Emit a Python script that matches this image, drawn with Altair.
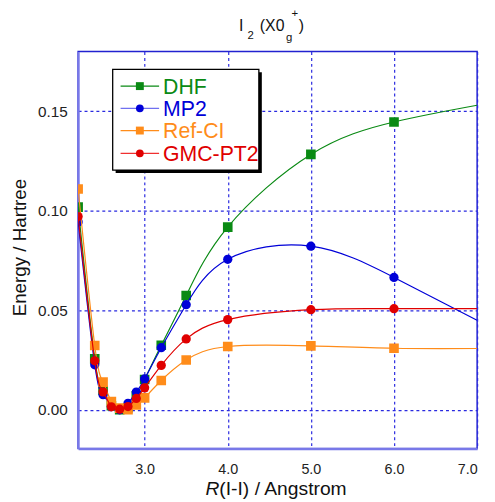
import altair as alt
import pandas as pd

# ---- data ----
R = [2.2, 2.4, 2.5, 2.6, 2.7, 2.8, 2.9, 3.0, 3.2, 3.5, 4.0, 5.0, 6.0, 7.0]
DHF = [0.1018, 0.0256, 0.0097, 0.0020, 0.0000, 0.0010, 0.0070, 0.0152, 0.0324, 0.0574, 0.0918, 0.1283, 0.1446, 0.1530]
MP2 = [0.0944, 0.0226, 0.0076, 0.0016, 0.0000, 0.0032, 0.0089, 0.0155, 0.0312, 0.0528, 0.0756, 0.0822, 0.0665, 0.0450]
REFCI = [0.1109, 0.0323, 0.0139, 0.0041, 0.0008, 0.0000, 0.0024, 0.0060, 0.0147, 0.0250, 0.0318, 0.0321, 0.0309, 0.0308]
GMCPT2 = [0.0971, 0.0246, 0.0090, 0.0015, 0.0003, 0.0016, 0.0057, 0.0110, 0.0223, 0.0356, 0.0453, 0.0503, 0.0508, 0.0508]
MARKED = [True] * 13 + [False]

SERIES = ["DHF", "MP2", "Ref-CI", "GMC-PT2"]
VALUES = [DHF, MP2, REFCI, GMCPT2]
COLORS = ["#0a8a14", "#0000d8", "#ff8c1a", "#e00000"]
LEGEND_LINE = ["#0a8a14", "#7070f0", "#ff8c1a", "#f03030"]
SHAPES = ["square", "circle", "square", "circle"]

X_TICKS = [3.0, 4.0, 5.0, 6.0, 7.0]
Y_TICKS = [0.0, 0.05, 0.10, 0.15]

FONT = "Liberation Sans"
GRID = "#2a2ae0"

xenc = alt.X("R:Q",
             scale=alt.Scale(domain=[2.2, 7.0], nice=False, zero=False),
             axis=alt.Axis(values=X_TICKS, format=".1f", title=None))
yenc = alt.Y("E:Q",
             scale=alt.Scale(domain=[-0.0195, 0.18], nice=False, zero=False),
             axis=alt.Axis(values=Y_TICKS, format=".2f", title=None))

layers = []
for name, vals, col, shp in zip(SERIES, VALUES, COLORS, SHAPES):
    df = pd.DataFrame({"R": R, "E": vals, "m": MARKED})
    line = alt.Chart(df).mark_line(color=col, strokeWidth=1.2, interpolate="natural", clip=True).encode(x=xenc, y=yenc)
    pts = alt.Chart(df[df["m"]]).mark_point(shape=shp, filled=True, color=col, opacity=1,
                                            size=95 if shp == "square" else 88, clip=True).encode(x=xenc, y=yenc)
    layers += [line, pts]

one = alt.Chart(pd.DataFrame({"a": [0]}))

# legend box (plot-area pixel coords)
lx0, lx1, ly0, ly1 = 35, 183, 18, 120
legend = [
    one.mark_rect(color="black").encode(x=alt.value(lx0 + 3), x2=alt.value(lx1 + 3), y=alt.value(ly0 + 3), y2=alt.value(ly1 + 3)),
    one.mark_rect(fill="white", stroke="black", strokeWidth=1.3).encode(x=alt.value(lx0), x2=alt.value(lx1), y=alt.value(ly0), y2=alt.value(ly1)),
]
rows = [35, 57.5, 80, 103]
for name, col, lcol, shp, ry in zip(SERIES, COLORS, LEGEND_LINE, SHAPES, rows):
    legend.append(one.mark_rule(color=lcol, strokeWidth=1.3).encode(x=alt.value(43), x2=alt.value(82), y=alt.value(ry)))
    legend.append(one.mark_point(shape=shp, filled=True, color=col, opacity=1, size=64 if shp == "square" else 62)
                  .encode(x=alt.value(62.5), y=alt.value(ry)))
    legend.append(one.mark_text(text=name, color=col, font=FONT, fontSize=21.5, align="left", baseline="alphabetic")
                  .encode(x=alt.value(86), y=alt.value(ry + 7.5)))

# title I2 (X0g+)
title = [
    one.mark_text(text="I", font=FONT, fontSize=16, align="left", baseline="alphabetic", color="#111").encode(x=alt.value(162.8), y=alt.value(-20.7)),
    one.mark_text(text="2", font=FONT, fontSize=11.5, align="left", baseline="alphabetic", color="#111").encode(x=alt.value(171.5), y=alt.value(-12.3)),
    one.mark_text(text="(X0", font=FONT, fontSize=16, align="left", baseline="alphabetic", color="#111").encode(x=alt.value(184), y=alt.value(-20.7)),
    one.mark_text(text="g", font=FONT, fontSize=11.5, align="left", baseline="alphabetic", color="#111").encode(x=alt.value(210.5), y=alt.value(-10.8)),
    one.mark_text(text="+", font=FONT, fontSize=11.5, align="left", baseline="alphabetic", color="#111").encode(x=alt.value(216), y=alt.value(-34.5)),
    one.mark_text(text=")", font=FONT, fontSize=16, align="left", baseline="alphabetic", color="#111").encode(x=alt.value(223.5), y=alt.value(-20.7)),
]

# axis titles
axis_titles = [
    one.mark_text(text="R", font=FONT, fontSize=19.5, fontStyle="italic", align="left", baseline="alphabetic", color="#111")
       .encode(x=alt.value(129), y=alt.value(449.5)),
    one.mark_text(text="(I-I) / Angstrom", font=FONT, fontSize=19.5, align="left", baseline="alphabetic", color="#111")
       .encode(x=alt.value(143), y=alt.value(449.5)),
    one.mark_text(text="Energy / Hartree", font=FONT, fontSize=19, angle=270, align="center", baseline="middle", color="#111")
       .encode(x=alt.value(-59), y=alt.value(198.5)),
]

chart = alt.layer(*layers, *legend, *title, *axis_titles).properties(
    width=404, height=402,
    autosize=alt.AutoSizeParams(type="none"),
    padding={"left": 71, "top": 41, "right": 10, "bottom": 50},
    background="white",
).configure_view(
    stroke="#2222d0", strokeWidth=1.5
).configure_axis(
    grid=True, gridColor=GRID, gridDash=[3, 3], gridWidth=1.2, gridOpacity=1,
    domain=True, domainColor="#7878e8", domainWidth=2.2,
    ticks=False, tickSize=0,
    labelFont=FONT, labelColor="#222", labelFontSize=15,
).configure_axisX(
    labelPadding=14, labelFontSize=14.5,
).configure_axisY(
    labelPadding=11, labelFontSize=15.5,
)

chart.save("out.html", embed_options={"renderer": "svg", "actions": False})
